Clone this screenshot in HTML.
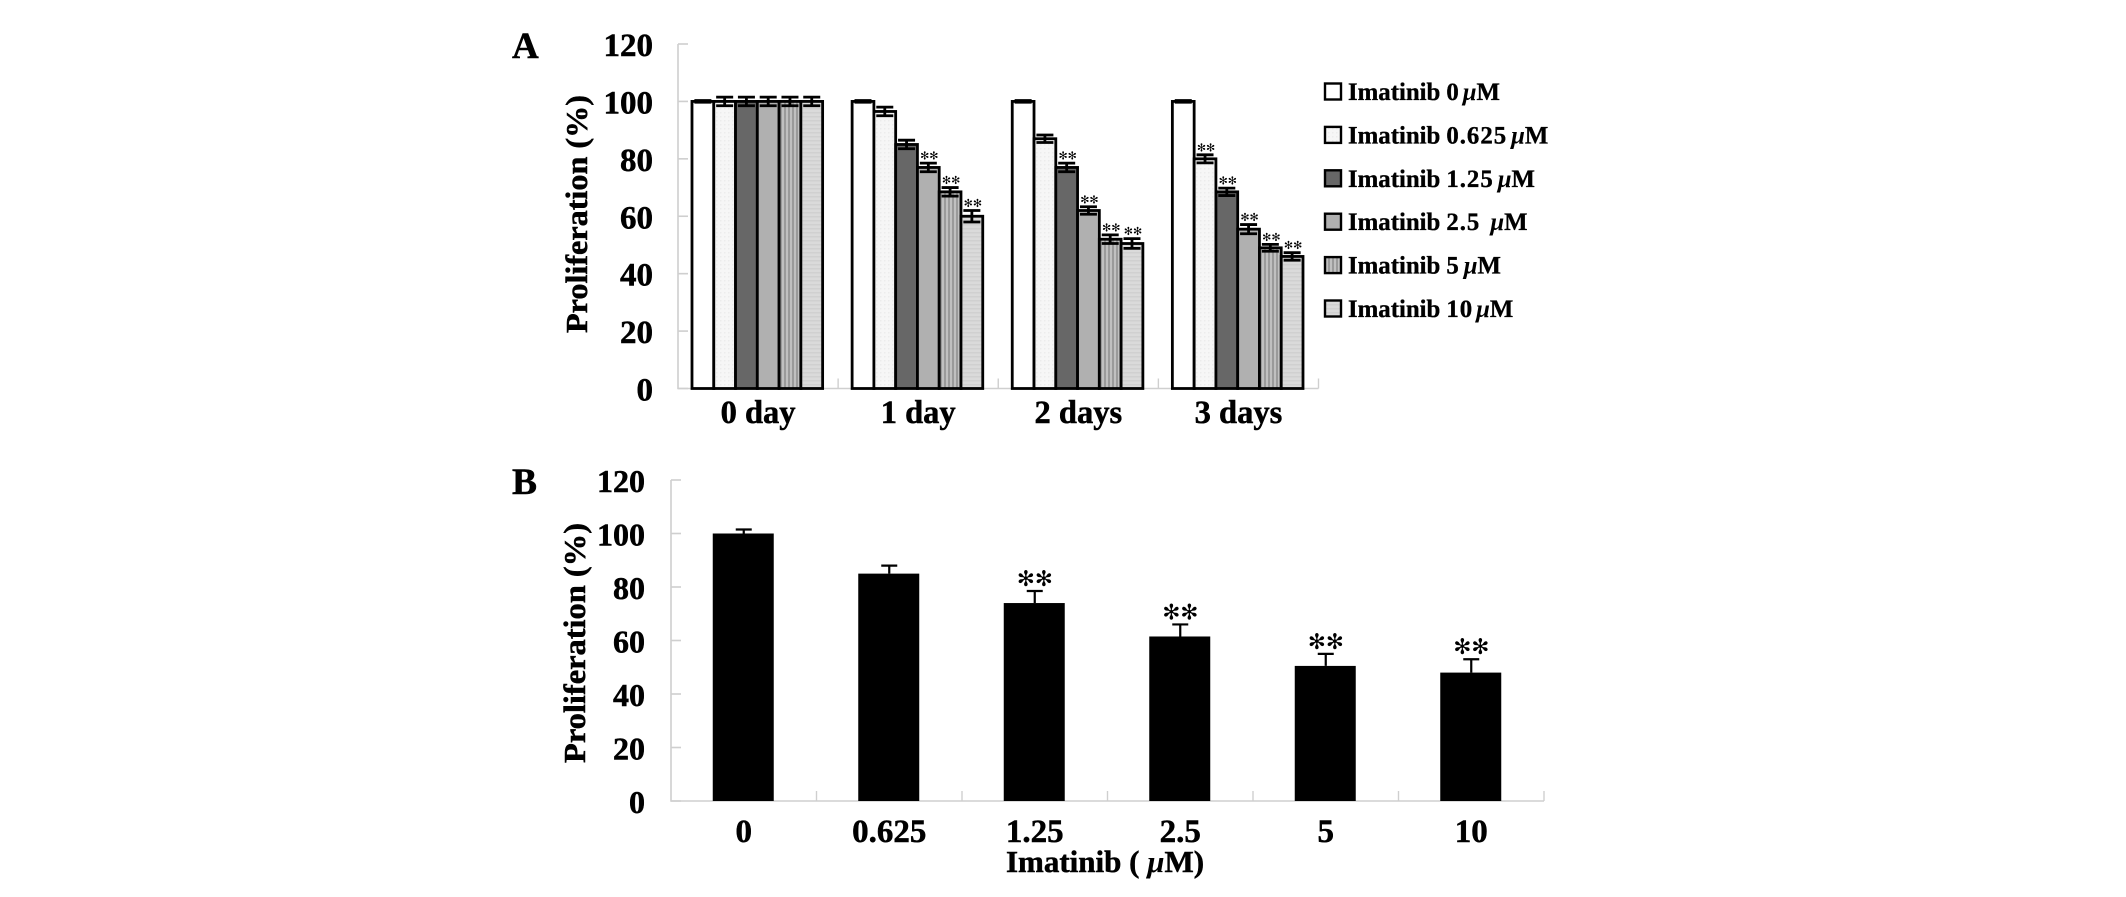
<!DOCTYPE html>
<html lang="en">
<head>
<meta charset="utf-8">
<title>Imatinib proliferation charts</title>
<style>
html,body{margin:0;padding:0;background:#fff;width:2126px;height:897px;overflow:hidden}
svg{display:block}
text{font-family:"Liberation Serif",serif;font-weight:bold;fill:#000;stroke:#000;stroke-width:.5px}
.star{font-family:"DejaVu Sans",sans-serif;font-weight:normal;text-anchor:middle;stroke:none}
</style>
</head>
<body>
<svg id="figure" xmlns="http://www.w3.org/2000/svg" width="2126" height="897" viewBox="0 0 2126 897">
  <defs>
    <pattern id="fill-dots" width="4" height="4" patternUnits="userSpaceOnUse">
      <rect width="4" height="4" fill="#f6f6f6"/><rect width="1.5" height="1.5" fill="#ececec"/>
    </pattern>
    <pattern id="fill-vstripes" width="4" height="4" patternUnits="userSpaceOnUse">
      <rect width="4" height="4" fill="#c0c0c0"/><rect width="2" height="4" fill="#9a9a9a"/>
    </pattern>
    <pattern id="fill-hstripes" width="4" height="4" patternUnits="userSpaceOnUse">
      <rect width="4" height="4" fill="#dadada"/><rect width="4" height="1.5" fill="#d0d0d0"/>
    </pattern>
  </defs>
  <text x="512" y="58" font-size="37">A</text>
  <text x="512" y="494" font-size="37.5">B</text>
  <text transform="translate(587,333) rotate(-90)" font-size="31" textLength="238" lengthAdjust="spacingAndGlyphs">Proliferation (%)</text>
  <text transform="translate(585,763) rotate(-90)" font-size="31" textLength="240" lengthAdjust="spacingAndGlyphs">Proliferation (%)</text>
  <text x="1105" y="872" font-size="31" text-anchor="middle">Imatinib ( <tspan font-style="italic" style="stroke-width:0">μ</tspan>M)</text>
  <g id="chart-a"></g>
  <g id="legend-a"></g>
  <g id="chart-b"></g>
</svg>
<script>
// ---- Panel A data ----
const daysA = ['0 day', '1 day', '2 days', '3 days'];
const ticksA = [0, 20, 40, 60, 80, 100, 120];
const doseLabels = ['0', '0.625', '1.25', '2.5', '5', '10'];
const dose0 = [100, 100, 100, 100];
const dose0625 = [100, 96.5, 87, 80];
const dose125 = [100, 85, 77, 68.5];
const dose25 = [100, 77, 62, 55.5];
const dose5 = [100, 68.5, 52, 49];
const dose10 = [100, 60, 50.5, 46];
const err0 = [0.3, 0.3, 0.3, 0.3];
const err0625 = [1.5, 1.5, 1.3, 1.4];
const err125 = [1.5, 1.5, 1.5, 1.3];
const err25 = [1.5, 1.5, 1.3, 1.6];
const err5 = [1.5, 1.5, 1.5, 1.2];
const err10 = [1.5, 2, 1.7, 1.3];
const sig0 = [0, 0, 0, 0];
const sig0625 = [0, 0, 0, 1];
const sig125 = [0, 0, 1, 1];
const sig25 = [0, 1, 1, 1];
const sig5 = [0, 1, 1, 1];
const sig10 = [0, 1, 1, 1];

// ---- Panel B data ----
const dosesB = ['0', '0.625', '1.25', '2.5', '5', '10'];
const ticksB = [0, 20, 40, 60, 80, 100, 120];
const valuesB = [100, 85, 74, 61.5, 50.5, 48];
const errorsB = [1.5, 3, 4.5, 4.5, 4.5, 5];
const sigB = [0, 0, 1, 1, 1, 1];

// ---- Helpers ----
const NS = 'http://www.w3.org/2000/svg';
function mk(parent, tag, attrs, text) {
  const el = document.createElementNS(NS, tag);
  for (const k in attrs) el.setAttribute(k, attrs[k]);
  if (text !== undefined) el.textContent = text;
  parent.appendChild(el);
  return el;
}

// ---- Panel A ----
const chartA = document.getElementById('chart-a');
const seriesVals = [dose0, dose0625, dose125, dose25, dose5, dose10];
const seriesErrs = [err0, err0625, err125, err25, err5, err10];
const seriesSig = [sig0, sig0625, sig125, sig25, sig5, sig10];
const seriesFill = ['#ffffff', 'url(#fill-dots)', '#676767', '#b0b0b0', 'url(#fill-vstripes)', 'url(#fill-hstripes)'];

const aLeft = 678, aRight = 1318.5, aTop = 44, aBase = 388.5, aMax = 120;
const yA = v => aBase - (v / aMax) * (aBase - aTop);
const groupA = i => aLeft + i * (aRight - aLeft) / daysA.length;
const groupWA = (aRight - aLeft) / daysA.length;
const xA = (g, s) => groupA(g) + 14 + s * ((groupWA - 29.5) / seriesVals.length);
const barWA = (groupWA - 29.5) / seriesVals.length;

const axisA = mk(chartA, 'path', {d: `M${aLeft} ${aTop}V${aBase}H${aRight}`, fill: 'none', stroke: '#cfcfcf', 'stroke-width': 1.6});



ticksA.forEach(t => {
  const tick = mk(chartA, 'line', {x1: aLeft, x2: aLeft + 10, y1: yA(t), y2: yA(t), stroke: '#cfcfcf', 'stroke-width': 1.6});
  
  
  const label = mk(chartA, 'text', {x: 653, y: yA(t) + 12, 'font-size': 33, 'text-anchor': 'end'}, String(t));
  
  
});

daysA.forEach((d, g) => {
  const tick = mk(chartA, 'line', {x1: groupA(g + 1), x2: groupA(g + 1), y1: aBase, y2: aBase - 10, stroke: '#cfcfcf', 'stroke-width': 1.4});
  
  
  const label = mk(chartA, 'text', {x: groupA(g) + groupWA / 2, y: 423, 'font-size': 32.5, 'text-anchor': 'middle'}, d);
  
  

  seriesVals.forEach((vals, s) => {
    const v = vals[g];
    const bar = mk(chartA, 'rect', {x: xA(g, s), y: yA(v), width: barWA, height: aBase - yA(v), fill: seriesFill[s], stroke: '#000', 'stroke-width': 2.8});
    
    
  });
  seriesVals.forEach((vals, s) => {
    const v = vals[g], e = seriesErrs[s][g];
    const cx = xA(g, s) + barWA / 2;
    const eb = mk(chartA, 'path', {d: `M${cx - 8.5} ${yA(v + e)}H${cx + 8.5}M${cx} ${yA(v + e)}V${yA(v - e)}M${cx - 8.5} ${yA(v - e)}H${cx + 8.5}`, fill: 'none', stroke: '#000', 'stroke-width': 2.8});
    
    
    if (seriesSig[s][g]) {
      const st = mk(chartA, 'text', {class: 'star', x: cx + 1, y: yA(v + e) - 3.5, 'font-size': 11, fill: '#222'}, '✻✻');
      
      
    }
  });
});

// ---- Legend ----
const legendA = document.getElementById('legend-a');
const legendGap = [-1, 0, 0, 6, 0, -1];
doseLabels.forEach((lab, i) => {
  const rowY = 100 + i * 43.4;
  const sw = mk(legendA, 'rect', {x: 1325, y: rowY - 16.5, width: 16, height: 16, fill: seriesFill[i], stroke: '#000', 'stroke-width': 2.4});
  
  
  const t = mk(legendA, 'text', {x: 1348, y: rowY, 'font-size': 24.8, style: 'stroke-width:.35px'});
  
  
  mk(t, 'tspan', {}, 'Imatinib');
  mk(t, 'tspan', {dx: 6, 'letter-spacing': 1}, lab);
  mk(t, 'tspan', {dx: 4 + legendGap[i], 'font-style': 'italic', style: 'stroke-width:0'}, 'μ');
  mk(t, 'tspan', {}, 'M');
});

// ---- Panel B ----
const chartB = document.getElementById('chart-b');
const bLeft = 671, bRight = 1544, bTop = 480, bBase = 801, bMax = 120;
const yB = v => bBase - (v / bMax) * (bBase - bTop);
const catWB = (bRight - bLeft) / dosesB.length;
const xB = i => bLeft + catWB * (i + 0.5);

const axisB = mk(chartB, 'path', {d: `M${bLeft} ${bTop}V${bBase}H${bRight}`, fill: 'none', stroke: '#cfcfcf', 'stroke-width': 1.6});



ticksB.forEach(t => {
  const tick = mk(chartB, 'line', {x1: bLeft, x2: bLeft + 10, y1: yB(t), y2: yB(t), stroke: '#cfcfcf', 'stroke-width': 1.6});
  
  
  const label = mk(chartB, 'text', {x: 645, y: yB(t) + 12, 'font-size': 32, 'text-anchor': 'end'}, String(t));
  
  
});

dosesB.forEach((d, i) => {
  const cx = xB(i), v = valuesB[i], e = errorsB[i];
  const tick = mk(chartB, 'line', {x1: bLeft + catWB * (i + 1), x2: bLeft + catWB * (i + 1), y1: bBase, y2: bBase - 10, stroke: '#cfcfcf', 'stroke-width': 1.4});
  
  
  const eb = mk(chartB, 'path', {d: `M${cx - 8} ${yB(v + e)}H${cx + 8}M${cx} ${yB(v + e)}V${yB(v)}`, fill: 'none', stroke: '#000', 'stroke-width': 2.2});
  
  
  const bar = mk(chartB, 'rect', {x: cx - 31, y: yB(v), width: 61, height: bBase - yB(v), fill: '#000'});
  
  
  const label = mk(chartB, 'text', {x: cx, y: 842, 'font-size': 33, 'text-anchor': 'middle'}, d);
  
  
  if (sigB[i]) {
    const st = mk(chartB, 'text', {class: 'star', x: cx, y: yB(v + e) - 5, 'font-size': 21.5}, '✻✻');
    
    
  }
});
</script>
</body>
</html>
